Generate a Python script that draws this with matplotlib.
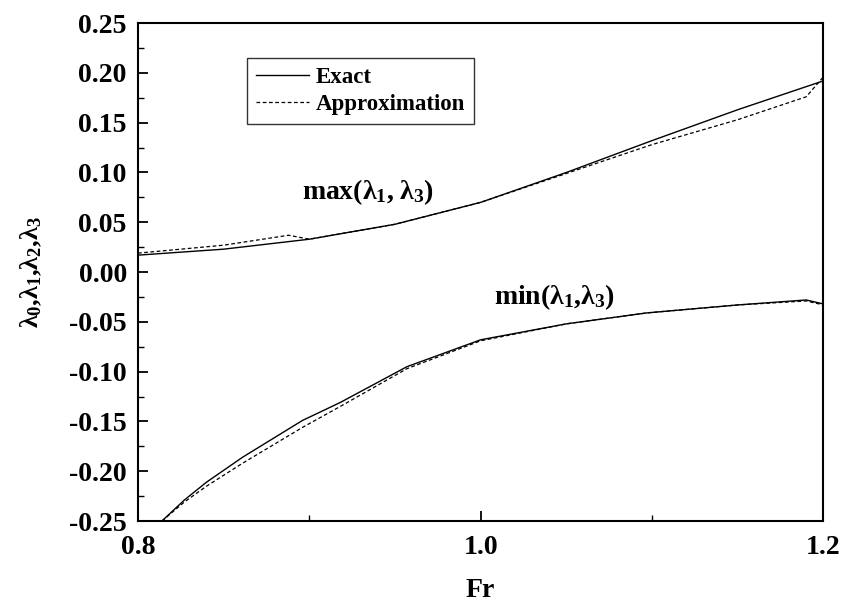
import matplotlib
matplotlib.use("Agg")
import matplotlib.pyplot as plt
from matplotlib.ticker import MultipleLocator, FormatStrFormatter

plt.rcParams['font.family'] = ['Liberation Serif', 'DejaVu Serif']
plt.rcParams['mathtext.fontset'] = 'custom'
plt.rcParams['mathtext.rm'] = 'Liberation Serif:bold'
plt.rcParams['mathtext.it'] = 'Liberation Serif:bold'
plt.rcParams['mathtext.bf'] = 'Liberation Serif:bold'

# Data
fr_max_exact = [0.80, 0.85, 0.90, 0.95, 1.00, 1.05, 1.10, 1.15, 1.20]
max_exact = [0.017, 0.023, 0.033, 0.048, 0.070, 0.100, 0.132, 0.163, 0.192]
fr_max_approx = [0.80, 0.85, 0.888, 0.90, 0.95, 1.00, 1.05, 1.10, 1.15, 1.19, 1.20]
max_approx = [0.019, 0.027, 0.037, 0.033, 0.048, 0.070, 0.099, 0.128, 0.153, 0.176, 0.196]

fr_min_exact = [0.814, 0.827, 0.84, 0.861, 0.896, 0.918, 0.957, 1.00, 1.05, 1.097, 1.15, 1.19, 1.20]
min_exact = [-0.250, -0.229, -0.211, -0.186, -0.149, -0.131, -0.095, -0.068, -0.052, -0.041, -0.033, -0.028, -0.032]
fr_min_approx = [0.814, 0.827, 0.84, 0.861, 0.896, 0.918, 0.957, 1.00, 1.05, 1.097, 1.15, 1.19, 1.20]
min_approx = [-0.250, -0.231, -0.215, -0.192, -0.156, -0.135, -0.097, -0.069, -0.052, -0.041, -0.033, -0.029, -0.033]

fig = plt.figure(figsize=(8.41, 6.08), dpi=100)
ax = fig.add_axes([0.164, 0.143, 0.815, 0.819])

ax.plot(fr_max_exact, max_exact, color='black', lw=1.0, label='Exact')
ax.plot(fr_max_approx, max_approx, color='black', lw=0.9, ls=(0, (3, 2)), label='Approximation')
ax.plot(fr_min_exact, min_exact, color='black', lw=1.0)
ax.plot(fr_min_approx, min_approx, color='black', lw=0.9, ls=(0, (3, 2)))

ax.set_xlim(0.8, 1.2)
ax.set_ylim(-0.25, 0.25)
ax.xaxis.set_major_locator(MultipleLocator(0.2))
ax.xaxis.set_minor_locator(MultipleLocator(0.1))
ax.yaxis.set_major_locator(MultipleLocator(0.05))
ax.yaxis.set_minor_locator(MultipleLocator(0.025))
ax.xaxis.set_major_formatter(FormatStrFormatter('%.1f'))
ax.yaxis.set_major_formatter(FormatStrFormatter('%.2f'))
ax.tick_params(which='both', direction='in', top=False, right=False)
ax.tick_params(axis='y', which='major', length=7, width=1.3, labelsize=20, pad=8)
ax.tick_params(axis='x', which='major', length=7, width=1.3, labelsize=20, pad=10)
ax.tick_params(which='minor', length=4, width=1.0)
for lab in ax.get_xticklabels() + ax.get_yticklabels():
    lab.set_fontweight('bold')
for sp in ax.spines.values():
    sp.set_linewidth(1.5)

ax.set_xlabel('Fr', fontsize=20, fontweight='bold', labelpad=13)
ax.set_ylabel(r'$\lambda_0{,}\lambda_1{,}\lambda_2{,}\lambda_3$', fontsize=19, labelpad=18)

ax.text(0.896, 0.073, r'max($\lambda_1$, $\lambda_3$)', fontsize=20, fontweight='bold',
        ha='left', va='baseline')
ax.text(1.008, -0.032, r'min($\lambda_1$,$\lambda_3$)', fontsize=20, fontweight='bold',
        ha='left', va='baseline')

leg = ax.legend(loc='upper left', bbox_to_anchor=(0.159, 0.930), borderaxespad=0,
                prop={'size': 16.5, 'weight': 'bold'},
                frameon=True, fancybox=False, edgecolor='black', handlelength=2.3,
                borderpad=0.4, labelspacing=0.25, handletextpad=0.3)
leg.get_frame().set_linewidth(1.0)

fig.savefig('out.png', dpi=100)
